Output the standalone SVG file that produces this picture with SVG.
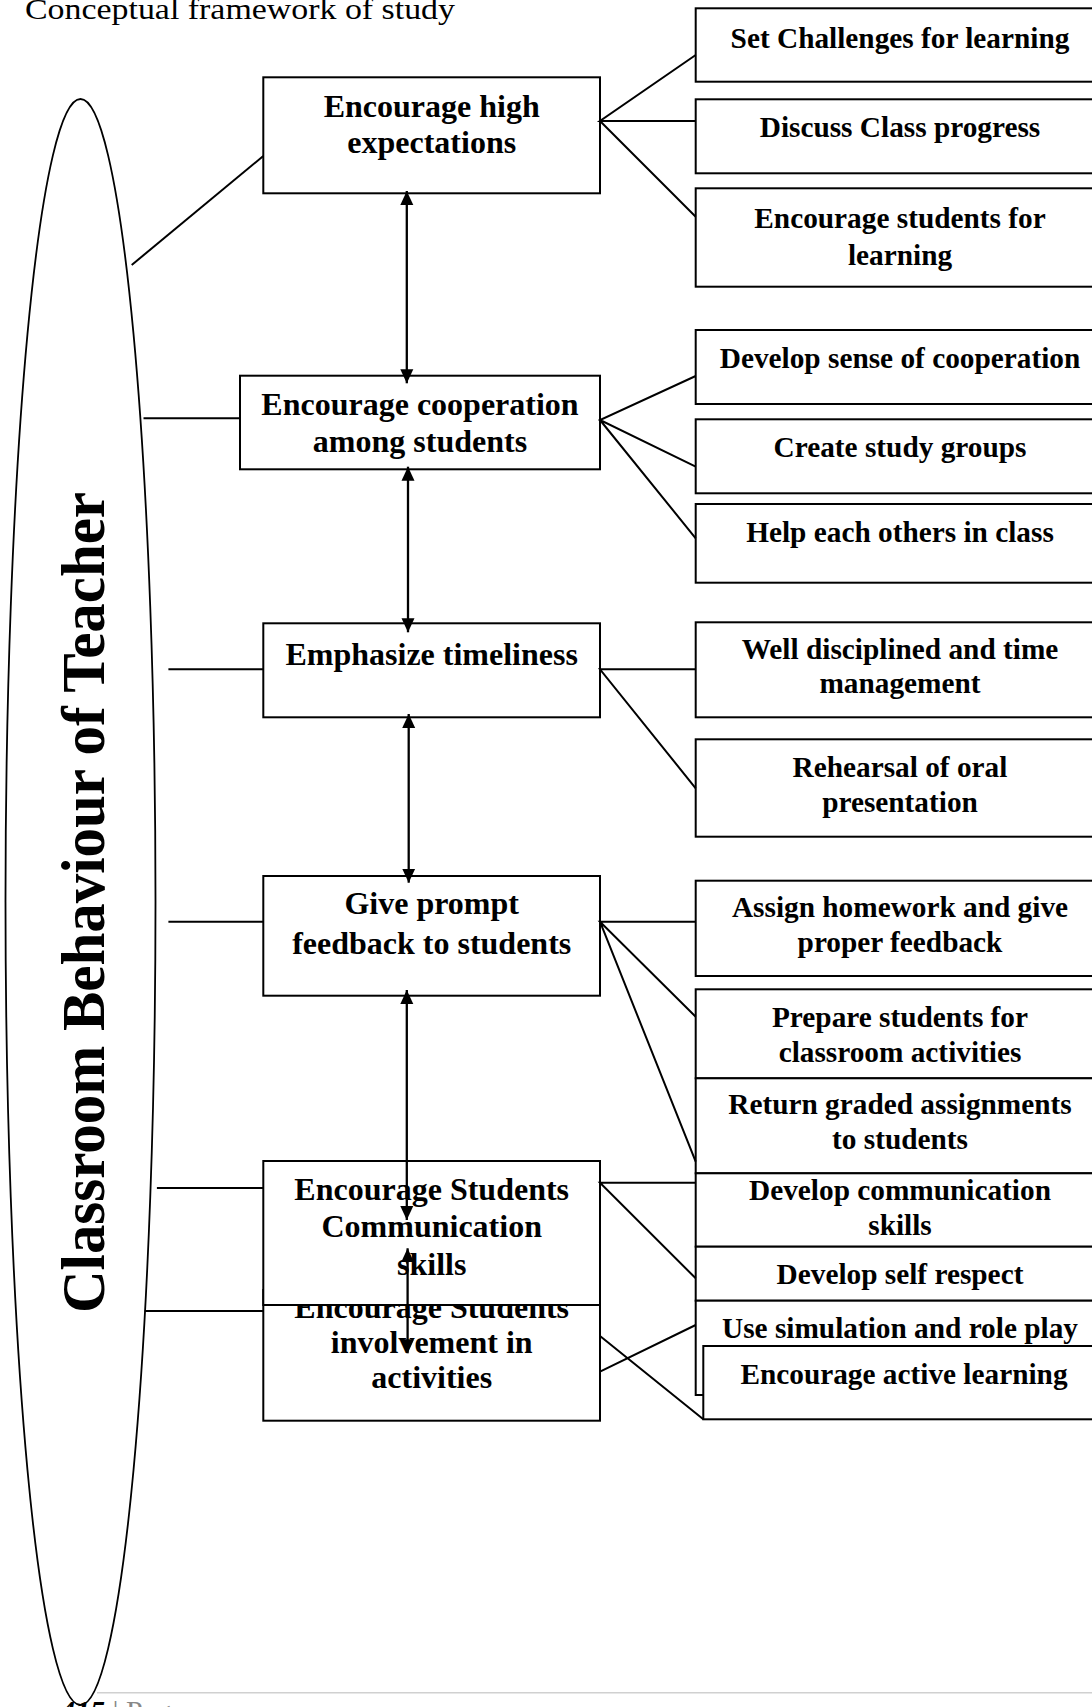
<svg xmlns="http://www.w3.org/2000/svg" width="1092" height="1707" viewBox="0 0 1092 1707">
<style>
.box{fill:#fff;stroke:#000;stroke-width:2}
.lt{font-family:"Liberation Serif","Times New Roman",serif;font-weight:bold;font-size:32px;text-anchor:middle;fill:#000}
.rt{font-family:"Liberation Serif","Times New Roman",serif;font-weight:bold;font-size:29.3px;text-anchor:middle;fill:#000}
.ln{stroke:#000;stroke-width:2;fill:none}
.ar{stroke:#000;stroke-width:2.3;fill:none;marker-start:url(#ah);marker-end:url(#ah)}
</style>
<defs>
<marker id="ah" viewBox="0 0 14 14" refX="14" refY="7" markerWidth="14" markerHeight="14" markerUnits="userSpaceOnUse" orient="auto-start-reverse">
<path d="M0,0.5 L14,7 L0,13.5 z" fill="#000"/>
</marker>
</defs>
<rect width="1092" height="1707" fill="#fff"/>
<text x="25" y="19" font-family="'Liberation Serif','Times New Roman',serif" font-size="30" textLength="430" lengthAdjust="spacingAndGlyphs" fill="#000">Conceptual framework of study</text>

<g id="central">
<ellipse cx="80.5" cy="902" rx="75" ry="803" fill="none" stroke="#000" stroke-width="1.8"/>
<text transform="translate(103.5,902.5) rotate(-90)" x="0" y="0" font-family="'Liberation Serif','Times New Roman',serif" font-weight="bold" font-size="62" text-anchor="middle" textLength="821" lengthAdjust="spacingAndGlyphs">Classroom Behaviour of Teacher</text>
</g>

<g id="box1"><rect class="box" x="263.3" y="77.3" width="336.7" height="116"/>
<text class="lt" x="431.7" y="117.3">Encourage high</text><text class="lt" x="431.7" y="153.3">expectations</text></g>
<g id="box2"><rect class="box" x="240" y="375.7" width="360" height="93.6"/>
<text class="lt" x="420" y="415">Encourage cooperation</text><text class="lt" x="420" y="451.7">among students</text></g>
<g id="box3"><rect class="box" x="263.3" y="623.3" width="336.7" height="94"/>
<text class="lt" x="431.7" y="665">Emphasize timeliness</text></g>
<g id="box4"><rect class="box" x="263.3" y="876" width="336.7" height="119.7"/>
<text class="lt" x="431.7" y="914.3">Give prompt</text><text class="lt" x="431.7" y="954">feedback to students</text></g>
<g id="box6"><rect class="box" x="263.3" y="1290" width="336.7" height="130.7"/>
<text class="lt" x="431.7" y="1318">Encourage Students</text><text class="lt" x="431.7" y="1353.3">involvement in</text><text class="lt" x="431.7" y="1388.3">activities</text></g>
<g id="box5"><rect class="box" x="263.3" y="1161" width="336.7" height="144"/>
<text class="lt" x="431.7" y="1200">Encourage Students</text><text class="lt" x="431.7" y="1237">Communication</text><text class="lt" x="431.7" y="1275">skills</text></g>

<g id="r1"><rect class="box" x="695.7" y="8.3" width="408.3" height="73.4"/><text class="rt" x="900" y="47.7">Set Challenges for learning</text></g>
<g id="r2"><rect class="box" x="695.7" y="99.3" width="408.3" height="74"/><text class="rt" x="900" y="137.3">Discuss Class progress</text></g>
<g id="r3"><rect class="box" x="695.7" y="188.3" width="408.3" height="98.4"/><text class="rt" x="900" y="228.3">Encourage students for</text><text class="rt" x="900" y="265">learning</text></g>
<g id="r4"><rect class="box" x="695.7" y="330" width="408.3" height="74"/><text class="rt" x="900" y="368.3">Develop sense of cooperation</text></g>
<g id="r5"><rect class="box" x="695.7" y="419.3" width="408.3" height="74"/><text class="rt" x="900" y="456.7">Create study groups</text></g>
<g id="r6"><rect class="box" x="695.7" y="504" width="408.3" height="78.7"/><text class="rt" x="900" y="541.7">Help each others in class</text></g>
<g id="r7"><rect class="box" x="695.7" y="622.3" width="408.3" height="95"/><text class="rt" x="900" y="659">Well disciplined and time</text><text class="rt" x="900" y="693.3">management</text></g>
<g id="r8"><rect class="box" x="695.7" y="739.3" width="408.3" height="97.4"/><text class="rt" x="900" y="776.7">Rehearsal of oral</text><text class="rt" x="900" y="811.7">presentation</text></g>
<g id="r9"><rect class="box" x="695.7" y="880.7" width="408.3" height="95.3"/><text class="rt" x="900" y="917.3">Assign homework and give</text><text class="rt" x="900" y="952.3">proper feedback</text></g>
<g id="r10"><rect class="box" x="695.7" y="989.3" width="408.3" height="89"/><text class="rt" x="900" y="1026.7">Prepare students for</text><text class="rt" x="900" y="1061.7">classroom activities</text></g>
<g id="r11"><rect class="box" x="695.7" y="1078.3" width="408.3" height="95"/><text class="rt" x="900" y="1114.3">Return graded assignments</text><text class="rt" x="900" y="1149.3">to students</text></g>
<g id="r12"><rect class="box" x="695.7" y="1173.3" width="408.3" height="73.4"/><text class="rt" x="900" y="1200">Develop communication</text><text class="rt" x="900" y="1235">skills</text></g>
<g id="r13"><rect class="box" x="695.7" y="1246.7" width="408.3" height="54"/><text class="rt" x="900" y="1284">Develop self respect</text></g>
<g id="r14"><rect class="box" x="695.7" y="1300.7" width="408.3" height="94.3"/><text class="rt" x="900" y="1338.3">Use simulation and role play</text></g>
<g id="r15"><rect class="box" x="703.3" y="1346" width="400.7" height="73.3"/><text class="rt" x="904" y="1384">Encourage active learning</text></g>

<g id="connectors">
<line class="ln" x1="131.7" y1="265" x2="263.3" y2="156"/>
<line class="ln" x1="143.5" y1="418.3" x2="240" y2="418.3"/>
<line class="ln" x1="168.4" y1="669.3" x2="263.3" y2="669.3"/>
<line class="ln" x1="168.4" y1="921.7" x2="263.3" y2="921.7"/>
<line class="ln" x1="156.9" y1="1188" x2="263.3" y2="1188"/>
<line class="ln" x1="144.7" y1="1311" x2="263.3" y2="1311"/>

<path class="ln" d="M695.7,55 L600,121 L695.7,121 M600,121 L695.7,216.7"/>
<path class="ln" d="M695.7,376 L600,420 L695.7,466.7 M600,420 L695.7,538.3"/>
<path class="ln" d="M695.7,669.3 L600,669.3 L695.7,788.3"/>
<path class="ln" d="M695.7,921.7 L600,921.7 L695.7,1016.7 M600,921.7 L695.7,1161.7"/>
<path class="ln" d="M695.7,1182.7 L600,1182.7 L695.7,1278.3"/>
<path class="ln" d="M600,1371.7 L695.7,1325 M600,1336 L703.3,1419.3"/>

<line class="ar" x1="406.8" y1="191" x2="406.8" y2="383.3"/>
<line class="ar" x1="408" y1="466.7" x2="408" y2="632.3"/>
<line class="ar" x1="408.7" y1="714" x2="408.7" y2="882.7"/>
<line class="ar" x1="406.8" y1="990" x2="406.8" y2="1220"/>
<line class="ar" x1="407.6" y1="1248.3" x2="407.6" y2="1353.3"/>
</g>

<line x1="97" y1="1692.7" x2="1092" y2="1692.7" stroke="#d0d0d0" stroke-width="1.5"/>
<text x="60" y="1721" font-family="'Liberation Serif','Times New Roman',serif" font-size="30"><tspan font-weight="bold" font-style="italic" fill="#000">415</tspan><tspan fill="#888"> | Page</tspan></text>
</svg>
